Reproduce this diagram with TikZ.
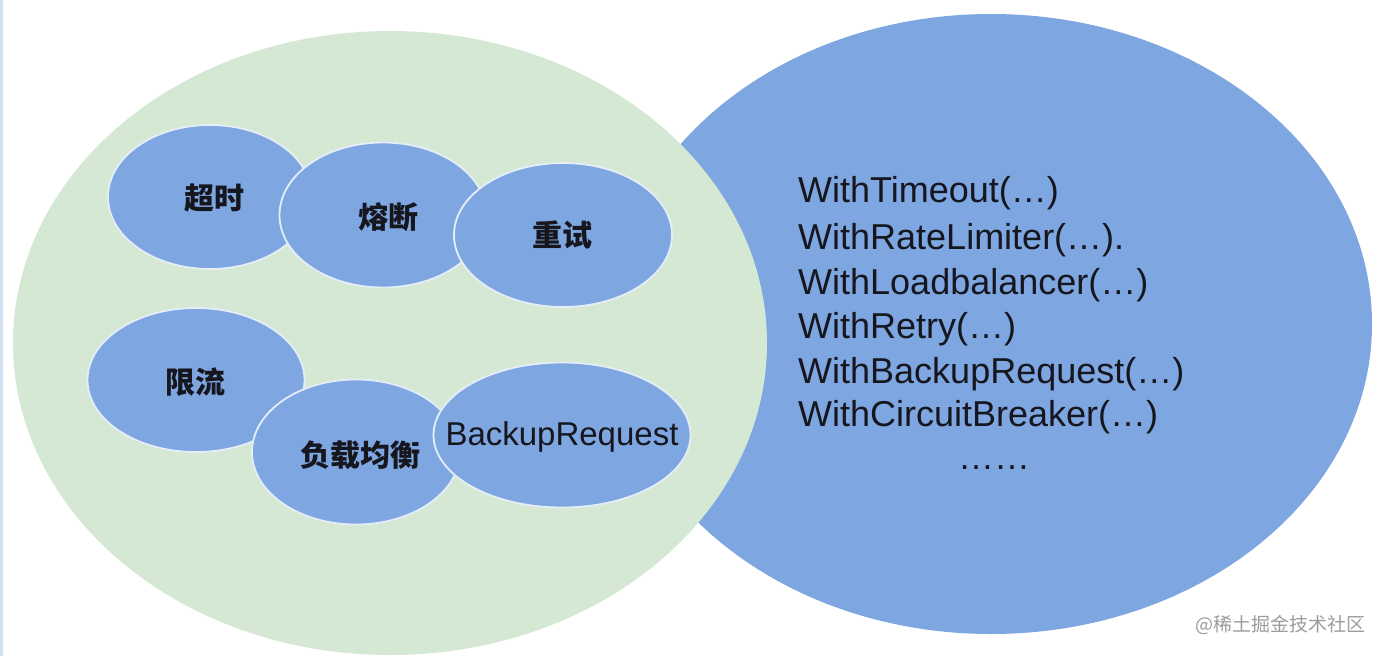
\documentclass[tikz,border=0pt]{standalone}
\usepackage{fontspec}
\setmainfont{Liberation Sans}
\newfontfamily\cjk{Noto Sans CJK SC}
\usetikzlibrary{shapes.geometric}
\definecolor{bluefill}{HTML}{7EA6E0}
\definecolor{greenfill}{HTML}{D5E8D4}
\definecolor{edgeline}{HTML}{E4EDF8}
\definecolor{sideline}{HTML}{CFE0F5}
\definecolor{inktext}{HTML}{15161E}
\definecolor{marktext}{HTML}{9C9C9C}
\tikzset{
  bigell/.style={ellipse, inner sep=0pt, draw=none},
  smallell/.style={ellipse, inner sep=0pt, fill=bluefill, draw=edgeline, line width=1.8pt},
  cnlabel/.style={inner sep=0pt, text=inktext, font=\cjk\bfseries\fontsize{30}{33}\selectfont},
  enlabel/.style={inner sep=0pt, text=inktext, font=\fontsize{33}{36}\selectfont},
  apiline/.style={inner sep=0pt, anchor=base west, text=inktext, font=\fontsize{36}{40}\selectfont},
  marklabel/.style={inner sep=0pt, text=marktext, font=\cjk\fontsize{19}{22}\selectfont}
}
\begin{document}
\begin{tikzpicture}[x=1pt,y=-1pt]
\useasboundingbox (0,0) rectangle (1381,656);
\fill[white] (0,0) rectangle (1381,656);
\draw[sideline, line width=2.5pt] (1.3,0) -- (1.3,656);
% big ellipses
\node[bigell, fill=bluefill, minimum width=762pt, minimum height=620pt] (api) at (991,324) {};
\node[bigell, fill=greenfill, minimum width=754pt, minimum height=624pt] (grp) at (390,343) {};
% small ellipses, top row
\node[smallell, minimum width=204pt, minimum height=144pt] (e1) at (210,197) {};
\node[smallell, minimum width=207pt, minimum height=145pt] (e2) at (383,215) {};
\node[smallell, minimum width=218pt, minimum height=144pt] (e3) at (563,235) {};
% bottom row
\node[smallell, minimum width=217pt, minimum height=144pt] (e4) at (196,380) {};
\node[smallell, minimum width=208pt, minimum height=145pt] (e5) at (356,452) {};
\node[smallell, minimum width=257pt, minimum height=145pt] (e6) at (562,435) {};
% labels
\node[cnlabel] (t1) at (214,198) {超时};
\node[cnlabel] (t2) at (388,217) {熔断};
\node[cnlabel] (t3) at (562,235) {重试};
\node[cnlabel] (t4) at (195,382) {限流};
\node[cnlabel] (t5) at (360,455) {负载均衡};
\node[enlabel] (t6) at (562,437) {BackupRequest};
% api list
\node[apiline] (a1) at (798,202) {WithTimeout(…)};
\node[apiline] (a2) at (798,249) {WithRateLimiter(…).};
\node[apiline] (a3) at (798,294) {WithLoadbalancer(…)};
\node[apiline] (a4) at (798,338) {WithRetry(…)};
\node[apiline] (a5) at (798,383) {WithBackupRequest(…)};
\node[apiline] (a6) at (798,426) {WithCircuitBreaker(…)};
\node[apiline] (a7) at (958,469) {……};
% watermark
\node[marklabel] (wm) at (1280,625) {@稀土掘金技术社区};
\end{tikzpicture}
\end{document}
